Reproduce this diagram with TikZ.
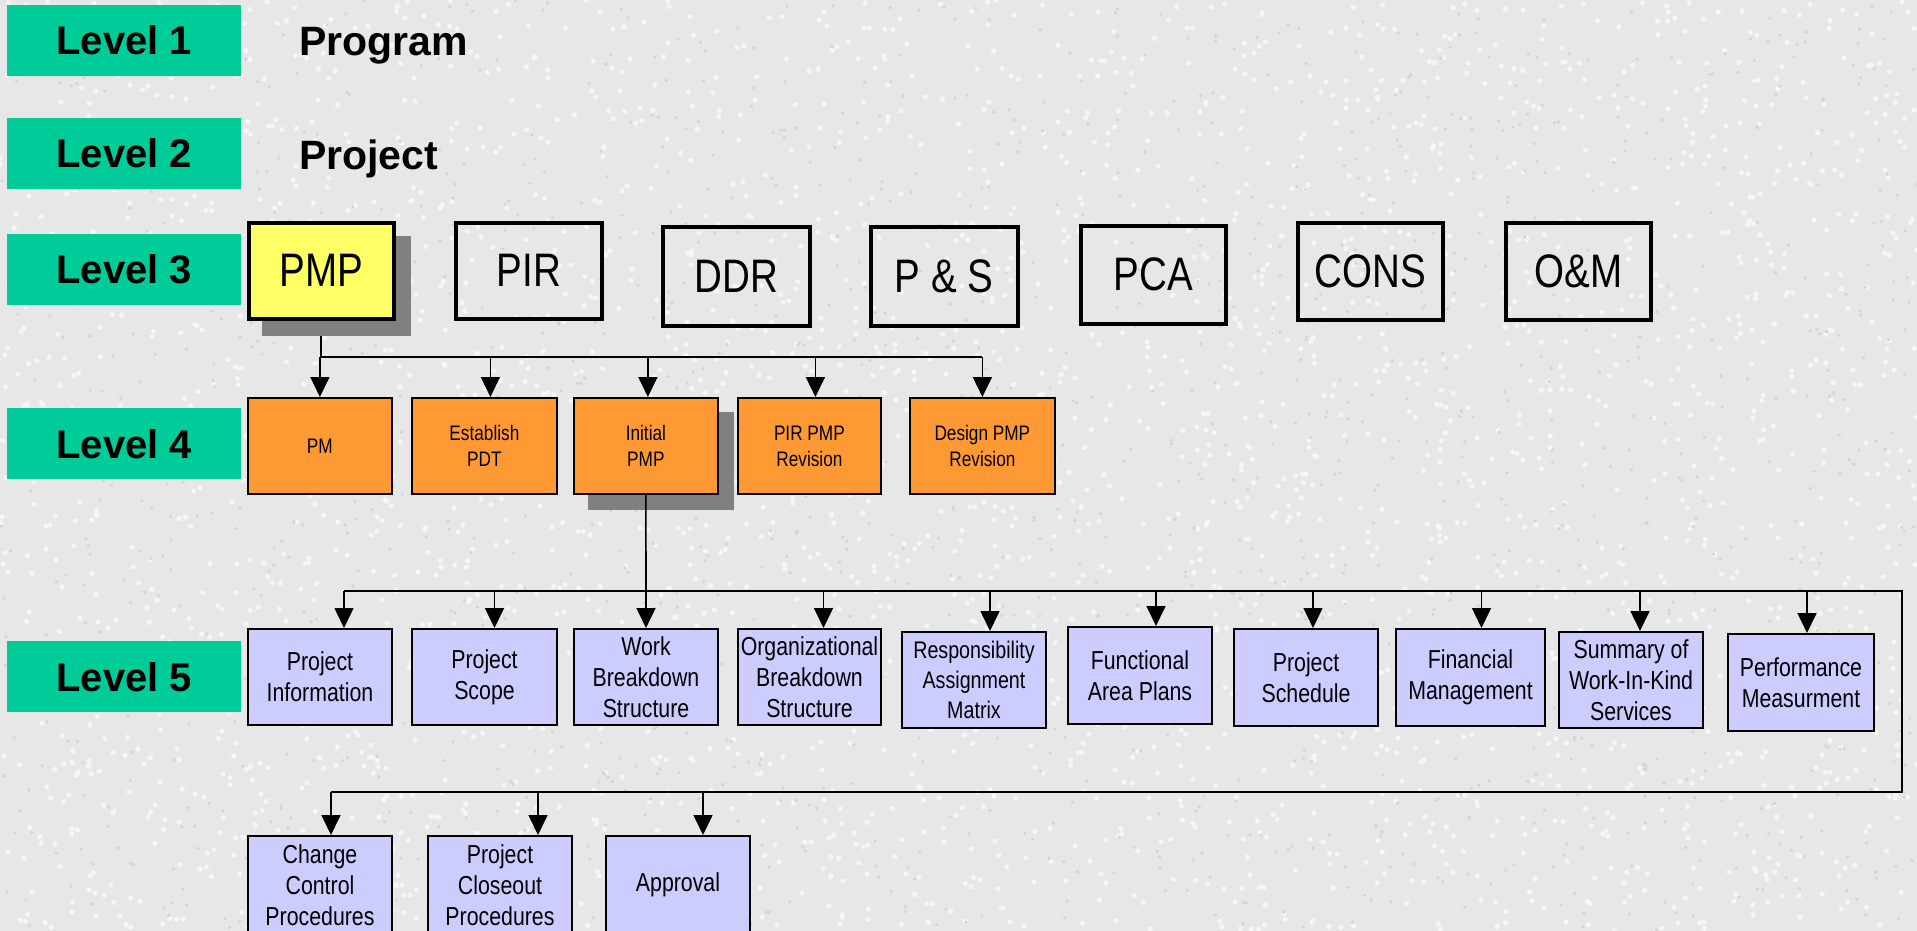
\documentclass[tikz,border=0pt]{standalone}
\usepackage{fontspec}
\setmainfont{Liberation Sans}
\newfontfamily\nar[FakeStretch=0.82]{Liberation Sans}
\usetikzlibrary{arrows.meta,calc}
\definecolor{bgc}{RGB}{231,231,231}
\definecolor{bgl}{RGB}{246,246,246}
\definecolor{bgd}{RGB}{212,212,212}
\definecolor{grn}{RGB}{0,204,153}
\definecolor{yel}{RGB}{255,255,102}
\definecolor{org}{RGB}{255,153,51}
\definecolor{lav}{RGB}{204,204,255}
\definecolor{shd}{RGB}{128,128,128}
\pgfdeclarelayer{bg}\pgfdeclarelayer{conn}\pgfdeclarelayer{shad}
\pgfsetlayers{bg,conn,shad,main}
\begin{document}
\begin{tikzpicture}[x=1pt,y=-1pt,
  lvl/.style={fill=grn, anchor=north west, minimum width=234pt, minimum height=71pt, inner sep=0pt, font=\fontsize{40}{48}\selectfont\bfseries},
  ttl/.style={anchor=base west, inner sep=0pt, font=\fontsize{41}{48}\selectfont\bfseries},
  bthree/.style={draw, line width=3.5pt, anchor=north west, inner sep=0pt, font=\nar\fontsize{47}{56}\selectfont},
  bfour/.style={draw, line width=1.8pt, fill=org, anchor=north west, inner sep=0pt, align=center, minimum height=96pt, font=\nar\fontsize{21}{26}\selectfont},
  bfive/.style={draw, line width=2pt, fill=lav, anchor=north west, inner sep=0pt, align=center, font=\nar\fontsize{26}{31}\selectfont},
  ln/.style={line width=1.6pt},
  bus/.style={line width=2pt},
  arr/.style={line width=1.6pt, -{Triangle[length=20pt,width=19pt]}},
  shadowbox/.style={fill=shd}]
\useasboundingbox (0,0) rectangle (1917,931);
\begin{pgfonlayer}{bg}
\fill[bgc] (0,0) rectangle (1917,931);
\pgfmathsetseed{42}
\foreach \i in {1,...,3000} { \fill[bgl] (rnd*1917, rnd*931) circle (2.6pt); }
\foreach \i in {1,...,1500} { \fill[bgd] (rnd*1917, rnd*931) circle (1.8pt); }
\end{pgfonlayer}

% level labels
\node[lvl] (l1) at (7,5) {Level 1};
\node[lvl] (l2) at (7,118) {Level 2};
\node[lvl] (l3) at (7,234) {Level 3};
\node[lvl] (l4) at (7,408) {Level 4};
\node[lvl] (l5) at (7,641) {Level 5};
\node[ttl] (prog) at (299,56) {Program};
\node[ttl] (proj) at (299,169) {Project};

% level 3
\node[bthree, fill=yel, minimum width=145pt, minimum height=96pt] (pmp) at (247,221) {PMP};
\node[bthree, minimum width=146pt, minimum height=96pt] (pir) at (454,221) {PIR};
\node[bthree, minimum width=147pt, minimum height=99pt] (ddr) at (661,225) {DDR};
\node[bthree, minimum width=147pt, minimum height=99pt] (ps3) at (869,225) {P \& S};
\node[bthree, minimum width=145pt, minimum height=98pt] (pca) at (1079,224) {PCA};
\node[bthree, minimum width=145pt, minimum height=97pt] (cons) at (1296,221) {CONS};
\node[bthree, minimum width=145pt, minimum height=97pt] (om) at (1504,221) {O\&M};

% level 4
\node[bfour, minimum width=144pt] (pm) at (247,397) {PM};
\node[bfour, minimum width=145pt] (est) at (411,397) {Establish\\PDT};
\node[bfour, minimum width=144pt] (ini) at (573,397) {Initial\\PMP};
\node[bfour, minimum width=143pt] (pirr) at (737,397) {PIR PMP\\Revision};
\node[bfour, minimum width=145pt] (des) at (909,397) {Design PMP\\Revision};

% level 5
\node[bfive, minimum width=144pt, minimum height=96pt] (pi) at (247,628) {Project\\Information};
\node[bfive, minimum width=145pt, minimum height=96pt] (ps) at (411,628) {Project\\Scope};
\node[bfive, minimum width=144pt, minimum height=96pt] (wbs) at (573,628) {Work\\Breakdown\\Structure};
\node[bfive, minimum width=143pt, minimum height=96pt] (obs) at (737,628) {Organizational\\Breakdown\\Structure};
\node[bfive, minimum width=144pt, minimum height=96pt, font=\nar\fontsize{24}{30}\selectfont] (ram) at (901,631) {Responsibility\\Assignment\\Matrix};
\node[bfive, minimum width=144pt, minimum height=97pt] (fap) at (1067,626) {Functional\\Area Plans};
\node[bfive, minimum width=144pt, minimum height=97pt] (sch) at (1233,628) {Project\\Schedule};
\node[bfive, minimum width=149pt, minimum height=97pt] (fin) at (1395,628) {Financial\\Management};
\node[bfive, minimum width=144pt, minimum height=96pt] (sum) at (1558,631) {Summary of\\Work-In-Kind\\Services};
\node[bfive, minimum width=146pt, minimum height=97pt] (perf) at (1727,633) {Performance\\Measurment};
\node[bfive, minimum width=144pt, minimum height=98pt] (cc) at (247,835) {Change\\Control\\Procedures};
\node[bfive, minimum width=144pt, minimum height=98pt] (pc) at (427,835) {Project\\Closeout\\Procedures};
\node[bfive, minimum width=144pt, minimum height=98pt] (app) at (605,835) {Approval};

% shadows
\begin{pgfonlayer}{shad}
\fill[shadowbox] ([shift={(15,15)}]pmp.north west) rectangle ([shift={(15,15)}]pmp.south east);
\fill[shadowbox] ([shift={(15,15)}]ini.north west) rectangle ([shift={(15,15)}]ini.south east);
\end{pgfonlayer}

% bus coordinates
\coordinate (b4) at (0,357);
\coordinate (b5) at (0,591);
\coordinate (b5r) at (1902,591);
\coordinate (b6) at (0,792);

% level 4 connectors
\foreach \n/\dx in {pm/0, est/6, ini/2, pirr/6, des/0} {
  \path (\n.north) ++(\dx,0) coordinate (t\n);
}
\begin{pgfonlayer}{conn}
\draw[ln] (pmp.south) -- (pmp.south |- b4) -- (tdes |- b4);
\foreach \n in {pm, est, ini, pirr, des} {
  \draw[arr] (t\n |- b4) -- (t\n);
}
\end{pgfonlayer}

% level 5 connectors
\foreach \n/\dx in {pi/24, ps/10, obs/14, ram/16, fap/16, sch/7, fin/11, sum/9, perf/6, cc/11, pc/38, app/25} {
  \path (\n.north) ++(\dx,0) coordinate (t\n);
}
\draw[arr] (ini.south) -- (wbs.north);
\begin{pgfonlayer}{conn}
\draw[bus] (tpi |- b5) -- (b5r) -- (b5r |- b6) -- (tcc |- b6);
\foreach \n in {pi, ps, obs, ram, fap, sch, fin, sum, perf} {
  \draw[arr] (t\n |- b5) -- (t\n);
}
\foreach \n in {cc, pc, app} {
  \draw[arr] (t\n |- b6) -- (t\n);
}
\end{pgfonlayer}
\end{tikzpicture}
\end{document}
